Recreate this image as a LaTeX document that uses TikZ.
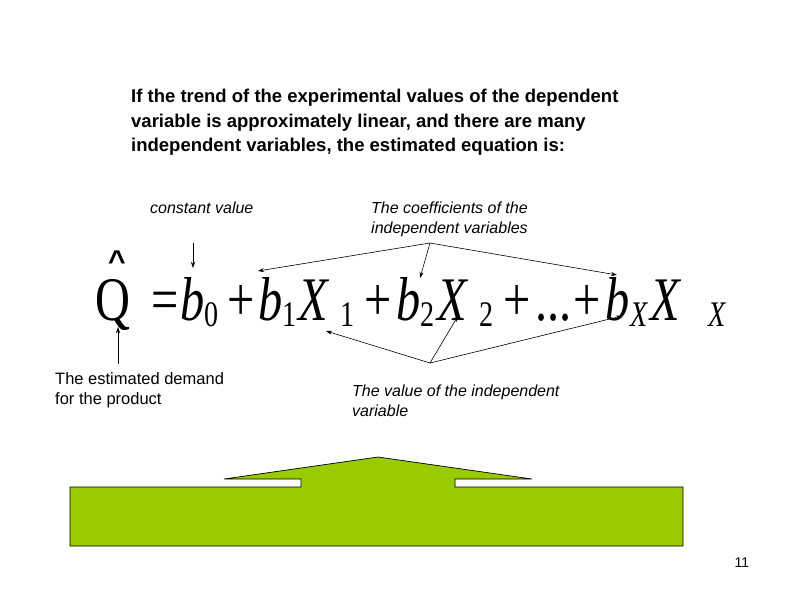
\documentclass[tikz,border=0pt]{standalone}
\usepackage{fontspec}
\setmainfont{Liberation Sans}
\newfontfamily\serifx{Liberation Serif}
\usetikzlibrary{arrows.meta}
\begin{document}
\begin{tikzpicture}[x=1pt,y=-1pt,
  lbl/.style={anchor=west,font=\fontsize{16}{20}\selectfont\itshape,align=left,inner sep=0},
  eqb/.style={anchor=base west,inner sep=0,xscale=0.78,transform shape},
  eq/.style={eqb,font=\fontsize{62}{62}\selectfont\serifx\itshape},
  eqr/.style={eqb,font=\fontsize{62}{62}\selectfont\serifx},
  sub/.style={eqb,font=\fontsize{36}{36}\selectfont\serifx},
  subi/.style={eqb,font=\fontsize{36}{36}\selectfont\serifx\itshape},
  arr/.style={-{Stealth[length=6pt,width=4pt]},line width=0.6pt}]
\useasboundingbox (0,0) rectangle (800,600);
\node[anchor=north west,inner sep=0,align=left,font=\fontsize{18.5}{24.5}\selectfont\bfseries] (title) at (131,89)
 {If the trend of the experimental values of the dependent\\variable is approximately linear, and there are many\\independent variables, the estimated equation is:};
% equation
\node[eqr] (Q) at (95,320) {Q};
\node[anchor=base,inner sep=0,font=\fontsize{30}{30}\selectfont\bfseries] (hat) at (117,271) {\char"005E};
\node[eqr] (eq1) at (151,320) {=};
\node[eq] (b0) at (180,320) {b};
\node[sub] (s0) at (204,326) {0};
\node[eqr] (p1) at (227,320) {+};
\node[eq] (b1) at (258,320) {b};
\node[sub] (s1) at (282,326) {1};
\node[eq] (X1) at (298,320) {X};
\node[sub] (s1b) at (340,326) {1};
\node[eqr] (p2) at (364,320) {+};
\node[eq] (b2) at (396,320) {b};
\node[sub] (s2) at (420,326) {2};
\node[eq] (X2) at (437,320) {X};
\node[sub] (s2b) at (479,326) {2};
\node[eqr] (p3) at (503,320) {+};
\node[eqr] (dots) at (535,320) {...};
\node[eqr] (p4) at (573,320) {+};
\node[eq] (bX) at (605,320) {b};
\node[subi] (sX) at (630,326) {X};
\node[eq] (XX) at (650,320) {X};
\node[subi] (sXX) at (708,326) {X};
% labels
\node[lbl] (const) at (150,208) {constant value};
\node[lbl] (coef) at (371,219) {The coefficients of the\\independent variables};
\node[lbl,font=\fontsize{16.5}{20}\selectfont] (est) at (55,390) {The estimated demand\\for the product};
\node[lbl] (val) at (352,401) {The value of the independent\\variable};
\coordinate (cA) at (193,243); \coordinate (cB) at (193,268);
\draw[arr] (cA) -- (cB);
\coordinate (k) at (430,243);
\coordinate (k1) at (258,271); \coordinate (k2) at (420,278); \coordinate (k3) at (617,275);
\draw[arr] (k) -- (k1); \draw[arr] (k) -- (k2); \draw[arr] (k) -- (k3);
\coordinate (eA) at (118,364); \coordinate (eB) at (118,327);
\draw[arr] (eA) -- (eB);
\coordinate (v) at (430,363);
\coordinate (v1) at (326,331); \coordinate (v2) at (458,316); \coordinate (v3) at (622,316);
\draw[arr] (v) -- (v1); \draw[arr] (v) -- (v2); \draw[arr] (v) -- (v3);
% green shape
\draw[fill={rgb,255:red,153;green,204;blue,0},line width=0.7pt] (70,487) -- (301,487) -- (301,479) -- (224,479) -- (378,457) -- (532,479) -- (455,479) -- (455,487) -- (683,487) -- (683,546) -- (70,546) -- cycle;
\node[anchor=base,inner sep=0,font=\fontsize{14}{14}\selectfont] (num) at (742,567) {11};
\end{tikzpicture}
\end{document}
